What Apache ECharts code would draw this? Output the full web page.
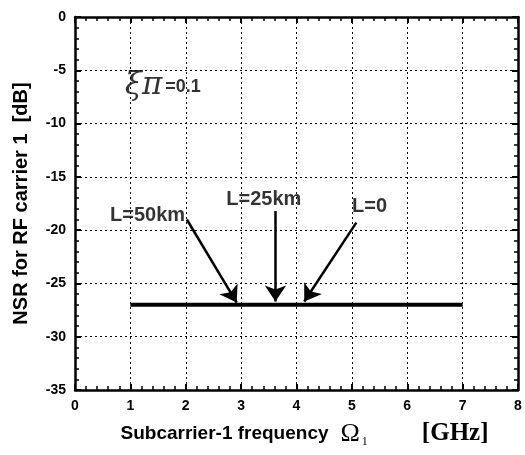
<!DOCTYPE html>
<html><head><meta charset="utf-8">
<script src="https://cdn.jsdelivr.net/npm/echarts@6/dist/echarts.min.js"></script>
<style>html,body{margin:0;padding:0;background:#fff}#c{width:525px;height:455px}</style>
</head><body><div id="c"></div>
<script>
// Data
var lineX = [1, 7];
var lineY = [-27, -27];
var arrowLabels = ['L=50km', 'L=25km', 'L=0'];
var arrowStart = [[2.02, -19.0], [3.62, -18.2], [5.08, -19.3]];
var arrowEnd = [[2.92, -26.8], [3.62, -26.7], [4.14, -26.7]];
var labelPos = [[1.31, -18.6], [3.41, -17.1], [5.32, -17.8]];
var paramSymbolPos = [0.9, -6.5];
var paramValuePos = [1.63, -6.6];
var paramSymbol = 'ξπ';
var paramValue = '=0.1';
var xTicks = [0, 1, 2, 3, 4, 5, 6, 7, 8];
var yTicks = [0, -5, -10, -15, -20, -25, -30, -35];

var chart = echarts.init(document.getElementById('c'));
var sans = 'Liberation Sans, Arial, sans-serif';
var serif = 'Liberation Serif, Times New Roman, serif';
function axisCommon(showLabel) {
  return {
    axisLine: {show: true, onZero: false, lineStyle: {color: '#000', width: 2.5}},
    axisTick: {show: true, inside: true, length: 6, lineStyle: {color: '#000', width: 2}},
    minorTick: {show: true, splitNumber: 5, length: 4, lineStyle: {color: '#000', width: 1.5}},
    axisLabel: {show: showLabel, color: '#000', fontWeight: 'bold', fontSize: 14, fontFamily: sans}
  };
}
var xMain = Object.assign(axisCommon(true), {
  type: 'value', min: xTicks[0], max: xTicks[xTicks.length - 1], interval: 1, position: 'bottom',
  splitLine: {show: true, lineStyle: {color: '#000', type: [2, 3], width: 1}},
  name: '{a|Subcarrier-1 frequency}{g|Ω}{s|1}{b|[GHz]}',
  nameLocation: 'middle', nameGap: 30,
  nameTextStyle: {rich: {
    a: {fontFamily: sans, fontWeight: 'bold', fontSize: 19, color: '#000', padding: [0, 12, 0, 16]},
    g: {fontFamily: serif, fontSize: 26, color: '#000'},
    s: {fontFamily: serif, fontSize: 12, color: '#000', padding: [16, 54, 0, 2]},
    b: {fontFamily: serif, fontWeight: 'bold', fontSize: 25, color: '#000'}
  }}
});
xMain.axisLabel.margin = 9;
var xTop = Object.assign(axisCommon(false), {type: 'value', min: 0, max: 8, interval: 1, position: 'top', splitLine: {show: false}});
var yMain = Object.assign(axisCommon(true), {
  type: 'value', min: yTicks[yTicks.length - 1], max: yTicks[0], interval: 5, position: 'left',
  splitLine: {show: true, lineStyle: {color: '#000', type: [2, 3], width: 1}},
  name: 'NSR for RF carrier 1  [dB]', nameLocation: 'middle', nameGap: 44,
  nameTextStyle: {fontFamily: sans, fontWeight: 'bold', fontSize: 20, color: '#000'}
});
yMain.axisLabel.margin = 9;
var yRight = Object.assign(axisCommon(false), {type: 'value', min: -35, max: 0, interval: 5, position: 'right', splitLine: {show: false}});

var arrowData = arrowStart.map(function (s, i) { return {coords: [s, arrowEnd[i]]}; });
var labelData = labelPos.map(function (p, i) { return {value: p, name: arrowLabels[i]}; });

chart.setOption({
  animation: false,
  backgroundColor: '#fff',
  grid: {left: 75, right: 7, top: 17, bottom: 65},
  xAxis: [xMain, xTop],
  yAxis: [yMain, yRight],
  series: [
    {type: 'line', data: lineX.map(function (x, i) { return [x, lineY[i]]; }), symbol: 'none',
     lineStyle: {color: '#000', width: 4}, z: 5},
    {type: 'lines', coordinateSystem: 'cartesian2d', data: arrowData, symbol: ['none', 'arrow'], symbolSize: [11, 16],
     lineStyle: {color: '#000', width: 2.5, opacity: 1}, z: 6},
    {type: 'scatter', data: labelData, symbolSize: 0, itemStyle: {color: '#000'},
     label: {show: true, position: 'inside', formatter: function (p) { return p.name; },
       color: '#000', textBorderWidth: 0, fontFamily: sans, fontWeight: 'bold', fontSize: 20}, z: 7},
    {type: 'scatter', data: [{value: paramSymbolPos, name: paramSymbol}], symbolSize: 0, itemStyle: {color: '#000'},
     label: {show: true, position: 'right', distance: 0, formatter: function (p) { return p.name; },
       color: '#000', fontFamily: 'DejaVu Serif', fontStyle: 'italic', fontSize: 31, textBorderWidth: 0}, z: 7},
    {type: 'scatter', data: [{value: paramValuePos, name: paramValue}], symbolSize: 0, itemStyle: {color: '#000'},
     label: {show: true, position: 'right', distance: 0, formatter: function (p) { return p.name; },
       color: '#000', fontFamily: sans, fontWeight: 'bold', fontSize: 18, textBorderWidth: 0}, z: 7}
  ]
});
</script></body></html>
